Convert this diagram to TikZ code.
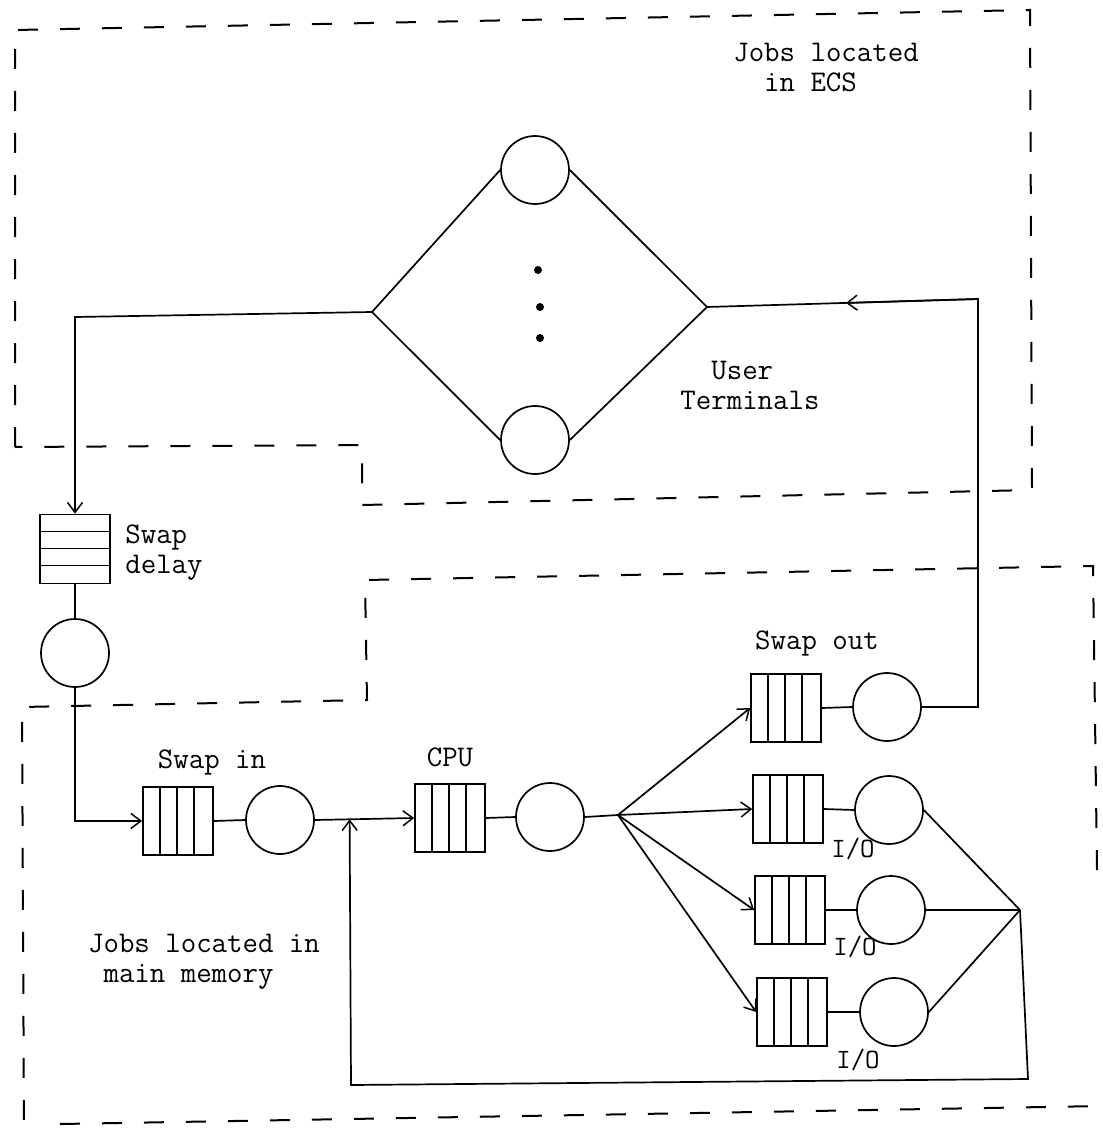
\documentclass[tikz,border=0pt]{standalone}
\usepackage{fontspec}
\usetikzlibrary{arrows.meta,calc}
\begin{document}
\begin{tikzpicture}[x=1pt,y=-1pt,
  ln/.style={line width=1.7pt},
  region/.style={line width=2pt, dash pattern=on 20pt off 22pt},
  arr/.style={-{Straight Barb[length=10pt,width=15pt,line width=1.5pt]}},
  srv/.style={circle, draw, line width=1.7pt, minimum size=68pt, inner sep=0pt},
  queuebox/.style={draw, line width=1.7pt, minimum width=70pt, minimum height=68pt, inner sep=0pt,
    path picture={\foreach \d in {17,34,51}{\draw[line width=1.5pt] ([xshift=\d pt]path picture bounding box.north west) -- ([xshift=\d pt]path picture bounding box.south west);}}},
  hqueue/.style={draw, line width=1.7pt, minimum width=70pt, minimum height=69pt, inner sep=0pt,
    path picture={\foreach \d in {17,34,51}{\draw[line width=1.5pt] ([yshift=-\d pt]path picture bounding box.north west) -- ([yshift=-\d pt]path picture bounding box.north east);}}},
  dotn/.style={circle, fill, minimum size=8pt, inner sep=0pt},
  lbl/.style={font=\ttfamily\fontsize{30}{30}\selectfont, inner sep=0pt}
]
\useasboundingbox (0,0) rectangle (1102,1134);

% regions
\draw[region] (15,447) -- (15,30) -- (1030,10) -- (1032,490) -- (362,505) -- (362,445) -- cycle;
\draw[region] (1097,870) -- (1093,566) -- (365,580) -- (367,700) -- (22,707) -- (24,1134);
\draw[region] (60,1124) -- (1102,1106);

% user terminals
\node[srv] (ut1) at (535,170) {};
\node[srv] (ut2) at (535,440) {};
\coordinate (utL) at (372,312);
\coordinate (utR) at (707,307);
\node[dotn] (d1) at (538,270) {};
\node[dotn] (d2) at (540,307) {};
\node[dotn] (d3) at (540,338) {};

% queues and servers
\node[hqueue] (sdq) at (75,549) {};
\node[srv] (sds) at (75,653) {};
\node[queuebox] (siq) at (178,821) {};
\node[srv] (sis) at (280,820) {};
\node[queuebox] (cpuq) at (450,818) {};
\node[srv] (cpus) at (550,817) {};
\coordinate (br) at (618,815);
\node[queuebox] (soq) at (786,708) {};
\node[srv] (sos) at (887,707) {};
\node[queuebox] (io1q) at (788,809) {};
\node[srv] (io1s) at (889,810) {};
\node[queuebox] (io2q) at (790,910) {};
\node[srv] (io2s) at (891,910) {};
\node[queuebox] (io3q) at (792,1012) {};
\node[srv] (io3s) at (894,1012) {};
\coordinate (coll) at (1020,910);
\coordinate (brC) at (1028,1079);
\coordinate (blC) at (351,1085);
\coordinate (join) at ($(sis.east)!0.35!(cpuq.west)$);
\coordinate (tl) at (75,317);
\coordinate (retTop) at (978,299);
\coordinate (midArr) at (846,303);

% connectors
\draw[ln] (utL) -- (ut1.west);
\draw[ln] (ut1.east) -- (utR);
\draw[ln] (utL) -- (ut2.west);
\draw[ln] (ut2.east) -- (utR);
\draw[ln,arr] (utL) -- (tl) -- (sdq.north);
\draw[ln] (sdq.south) -- (sds.north);
\draw[ln,arr] (sds.south) |- (siq.west);
\draw[ln] (siq.east) -- (sis.west);
\draw[ln,arr] (sis.east) -- (cpuq.west);
\draw[ln] (cpuq.east) -- (cpus.west);
\draw[ln] (cpus.east) -- (br);
\foreach \q in {soq,io1q,io2q,io3q} \draw[ln,arr] (br) -- (\q.west);
\draw[ln] (soq.east) -- (sos.west);
\draw[ln] (io1q.east) -- (io1s.west);
\draw[ln] (io2q.east) -- (io2s.west);
\draw[ln] (io3q.east) -- (io3s.west);
\draw[ln] (sos.east) -| (retTop) -- (utR);
\draw[ln,arr] (retTop) -- (midArr);
\draw[ln] (io1s.east) -- (coll);
\draw[ln] (io2s.east) -- (coll);
\draw[ln] (io3s.east) -- (coll);
\draw[ln,arr] (coll) -- (brC) -- (blC) -- (join);

% labels
\node[lbl, align=left] (ecs) at (826,68) {Jobs located\\\phantom{Jo}in ECS};
\node[lbl, align=left] (utlbl) at (750,385) {\phantom{Te}User\\Terminals};
\node[lbl, align=left] (sdlbl) at (164,553) {Swap\\delay};
\node[lbl] (silbl) at (212,762) {Swap in};
\node[lbl] (cpulbl) at (450,757) {CPU};
\node[lbl] (solbl) at (817,643) {Swap out};
\node[lbl, font=\ttfamily\fontsize{28}{28}\selectfont] (io1lbl) at (853,849) {I/O};
\node[lbl, font=\ttfamily\fontsize{28}{28}\selectfont] (io2lbl) at (855,947) {I/O};
\node[lbl, font=\ttfamily\fontsize{28}{28}\selectfont] (io3lbl) at (858,1060) {I/O};
\node[lbl, align=left] (mmlbl) at (204,962) {Jobs located in\\\phantom{J}main memory};
\end{tikzpicture}
\end{document}
